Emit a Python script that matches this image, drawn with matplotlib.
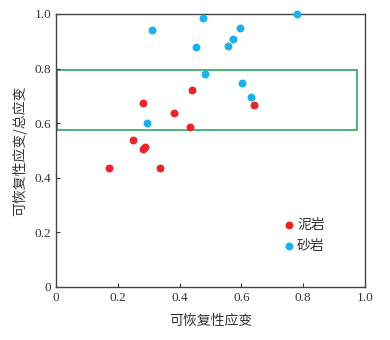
import matplotlib.pyplot as plt
from matplotlib.patches import Rectangle

# Data
mud_x = [0.441, 0.280, 0.640, 0.383, 0.435, 0.248, 0.289, 0.282, 0.173, 0.337]
mud_y = [0.720, 0.675, 0.668, 0.638, 0.587, 0.540, 0.514, 0.507, 0.436, 0.437]
sand_x = [0.311, 0.476, 0.779, 0.595, 0.572, 0.558, 0.454, 0.482, 0.602, 0.631, 0.293]
sand_y = [0.941, 0.986, 1.000, 0.947, 0.908, 0.884, 0.878, 0.779, 0.747, 0.697, 0.601]
ticks = [0, 0.2, 0.4, 0.6, 0.8, 1.0]
tick_labels = ['0', '0.2', '0.4', '0.6', '0.8', '1.0']
box_x = [0.002, 0.974]
box_y = [0.576, 0.794]

plt.rcParams['font.family'] = ['Liberation Serif', 'Noto Sans CJK SC']
text_color = '#333333'

fig = plt.figure(figsize=(3.9, 3.4), dpi=100)
ax = fig.add_axes([0.1436, 0.156, 0.7924, 0.803])

ax.scatter(mud_x, mud_y, s=22, color='#e8262a', label='泥岩', zorder=3, clip_on=False)
ax.scatter(sand_x, sand_y, s=22, color='#1ab0ec', label='砂岩', zorder=3, clip_on=False)

# green box marking the 0.58-0.79 band
ax.add_patch(Rectangle((box_x[0], box_y[0]), box_x[1] - box_x[0], box_y[1] - box_y[0],
                       fill=False, edgecolor='#2ea85a', linewidth=1.2))

ax.set_xlim(0, 1)
ax.set_ylim(0, 1)
ax.set_xticks(ticks)
ax.set_xticklabels(tick_labels)
ax.set_yticks(ticks)
ax.set_yticklabels(tick_labels)
ax.tick_params(direction='in', length=3, labelsize=9.5, colors=text_color, width=0.8)
for s in ax.spines.values():
    s.set_color('#444444')
    s.set_linewidth(1.0)

ax.set_xlabel('可恢复性应变', fontsize=10, color=text_color,
              family=['Noto Sans CJK SC'], labelpad=7)
ax.set_ylabel('可恢复性应变/总应变', fontsize=10, color=text_color,
              family=['Noto Sans CJK SC'], labelpad=5)

leg = ax.legend(loc='lower right', bbox_to_anchor=(0.91, 0.08), frameon=False,
                handletextpad=0.1, handlelength=1.0, markerscale=1.0,
                prop={'family': 'Noto Sans CJK SC', 'size': 10}, labelspacing=0.5)
for t in leg.get_texts():
    t.set_color(text_color)

plt.savefig('out.png', dpi=100)
